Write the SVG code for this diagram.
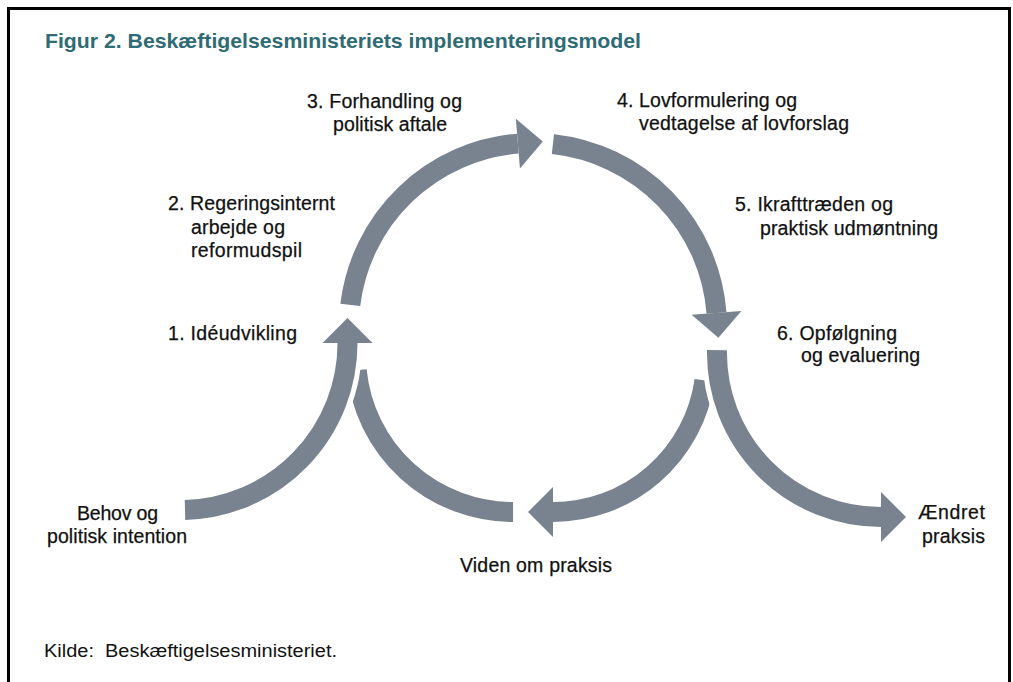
<svg xmlns="http://www.w3.org/2000/svg" width="1013" height="682" viewBox="0 0 1013 682">
<style>
.lbl{font-family:"Liberation Sans",Arial,Helvetica,sans-serif;font-size:19.5px;fill:#111;stroke:#111;stroke-width:0.25;}
.title{font-family:"Liberation Sans",Arial,Helvetica,sans-serif;font-size:21px;font-weight:bold;fill:#2e6b74;}
.src{font-family:"Liberation Sans",Arial,Helvetica,sans-serif;font-size:18px;fill:#111;}
.band{fill:none;stroke:#78838f;stroke-width:20;stroke-linecap:butt;}
.head{fill:#78838f;}
</style>
<defs>
<clipPath id="cutBehov"><path clip-rule="evenodd" d="M0,0H1013V682H0Z M362.5,343 A182,182 0 1 0 -1.5,343 A182,182 0 1 0 362.5,343Z"/></clipPath>
<clipPath id="cutAendret"><path clip-rule="evenodd" d="M0,0H1013V682H0Z M1060,353 A179,179 0 1 0 702,353 A179,179 0 1 0 1060,353Z"/></clipPath>
</defs>
<rect width="1013" height="682" fill="#fff"/>
<path d="M8.5,682V8.5H1009.5V682" fill="none" stroke="#000" stroke-width="3"/>
<text class="title" x="45" y="47.5" textLength="596" lengthAdjust="spacingAndGlyphs">Figur 2. Beskæftigelsesministeriets implementeringsmodel</text>
<g id="connectors">
<g id="arc-2-3">
<path class="band" d="M350.3,304.9 A184,184 0 0 1 517.9,143.6"/>
<polygon class="head" points="515.85,118.7 542.8,141.55 519.95,168.5"/>
</g>
<g id="arc-4-5">
<path class="band" d="M552.9,144.1 A184,184 0 0 1 716.5,312.9"/>
<polygon class="head" points="741.4,311.0 718.4,337.8 691.6,314.8"/>
</g>
<g id="arc-behov-1">
<path class="band" d="M185,509.9 A167,167 0 0 0 347.5,343"/>
<polygon class="head" points="322.5,343 347.5,318 372.5,343"/>
</g>
<g id="arc-viden-1">
<path class="band" clip-path="url(#cutBehov)" d="M513,512 A157,157 0 0 1 356.7,370.1"/>
</g>
<g id="arc-6-viden">
<path class="band" clip-path="url(#cutAendret)" d="M704.5,380.3 A153,153 0 0 1 553,512"/>
<polygon class="head" points="553,487 528,512 553,537"/>
</g>
<g id="arc-6-aendret">
<path class="band" d="M717,350.1 A164,164 0 0 0 881,517"/>
<polygon class="head" points="881,492 906,517 881,542"/>
</g>
</g>
<g id="node-behov">
<text class="lbl" x="77" y="520" textLength="81" lengthAdjust="spacing">Behov og</text>
<text class="lbl" x="47" y="543" textLength="140" lengthAdjust="spacing">politisk intention</text>
</g>
<g id="node-1">
<text class="lbl" x="168" y="340" textLength="129" lengthAdjust="spacing">1. Idéudvikling</text>
</g>
<g id="node-2">
<text class="lbl" x="168" y="210" textLength="167" lengthAdjust="spacing">2. Regeringsinternt</text>
<text class="lbl" x="191" y="234" textLength="94" lengthAdjust="spacing">arbejde og</text>
<text class="lbl" x="191" y="257" textLength="111" lengthAdjust="spacing">reformudspil</text>
</g>
<g id="node-3">
<text class="lbl" x="307" y="108" textLength="155" lengthAdjust="spacing">3. Forhandling og</text>
<text class="lbl" x="333" y="131" textLength="114" lengthAdjust="spacing">politisk aftale</text>
</g>
<g id="node-4">
<text class="lbl" x="617" y="107" textLength="180" lengthAdjust="spacing">4. Lovformulering og</text>
<text class="lbl" x="639" y="130" textLength="210" lengthAdjust="spacing">vedtagelse af lovforslag</text>
</g>
<g id="node-5">
<text class="lbl" x="735" y="211" textLength="158" lengthAdjust="spacing">5. Ikrafttræden og</text>
<text class="lbl" x="760" y="235" textLength="178" lengthAdjust="spacing">praktisk udmøntning</text>
</g>
<g id="node-6">
<text class="lbl" x="777" y="340" textLength="120" lengthAdjust="spacing">6. Opfølgning</text>
<text class="lbl" x="801" y="362" textLength="119" lengthAdjust="spacing">og evaluering</text>
</g>
<g id="node-viden">
<text class="lbl" x="460" y="572" textLength="152" lengthAdjust="spacing">Viden om praksis</text>
</g>
<g id="node-aendret">
<text class="lbl" x="918" y="519" textLength="67" lengthAdjust="spacing">Ændret</text>
<text class="lbl" x="922" y="543" textLength="63" lengthAdjust="spacing">praksis</text>
</g>
<text class="src" x="44" y="657" textLength="293" lengthAdjust="spacingAndGlyphs">Kilde:&#160; Beskæftigelsesministeriet.</text>
</svg>
